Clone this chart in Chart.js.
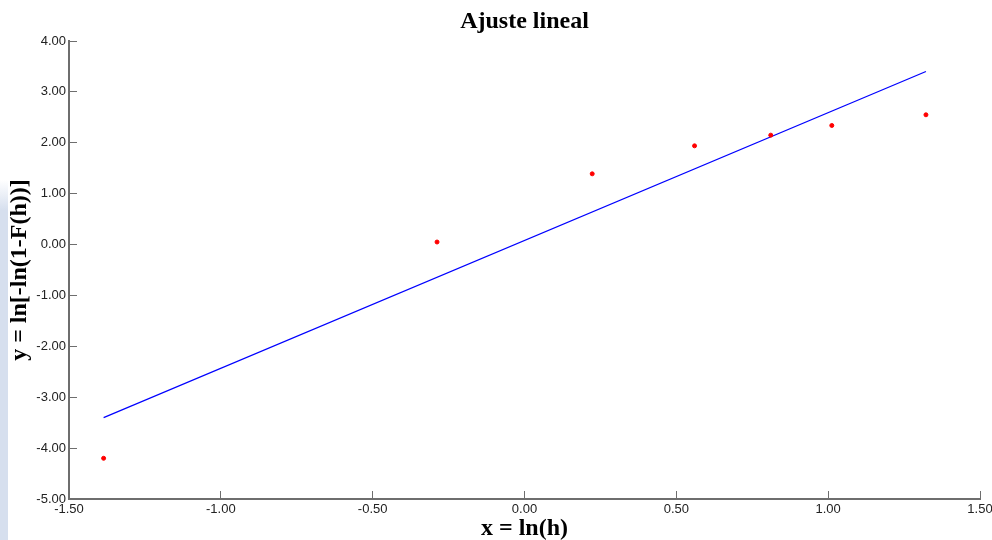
<!DOCTYPE html>
<html>
<head>
<meta charset="utf-8">
<script src="https://cdn.jsdelivr.net/npm/chart.js@4"></script>
<style>
  body { margin: 0; background: #fff; }
  #wrap { position: relative; width: 992px; height: 540px; }
  #strip { position: absolute; left: 0; top: 180px; width: 8px; height: 360px;
           background: linear-gradient(to bottom, rgba(214,223,238,0), #d6dfee 30px, #d6dfee); }
  canvas { position: absolute; left: 0; top: 0; }
</style>
</head>
<body>
<div id="wrap">
  <div id="strip"></div>
  <canvas id="fitChart" width="992" height="540"></canvas>
</div>
<script>
// Ajuste lineal: x = ln(h), y = ln[-ln(1-F(h))]
const xObs = [-1.386, -0.288, 0.223, 0.560, 0.811, 1.012, 1.322];
const yObs = [-4.20, 0.05, 1.39, 1.94, 2.15, 2.34, 2.55];
const xFit = [-1.386, 1.322];
const yFit = [-3.40, 3.40];
const xTicks = [-1.5, -1.0, -0.5, 0.0, 0.5, 1.0, 1.5];
const yTicks = [-5, -4, -3, -2, -1, 0, 1, 2, 3, 4];

const axisGray = '#6e6e6e';
const tickFont = { family: "'Liberation Sans', Arial, sans-serif", size: 13 };
const serif = "'Liberation Serif', 'Times New Roman', serif";

// title centred over the plot area
const plotTitle = {
  id: 'plotTitle',
  afterDraw(chart) {
    const { ctx, chartArea } = chart;
    ctx.save();
    ctx.font = 'bold 24px ' + serif;
    ctx.fillStyle = '#000';
    ctx.textAlign = 'center';
    ctx.textBaseline = 'middle';
    ctx.fillText('Ajuste lineal', (chartArea.left + chartArea.right) / 2, 22);
    ctx.restore();
  }
};

new Chart(document.getElementById('fitChart').getContext('2d'), {
  type: 'scatter',
  data: {
    datasets: [
      {
        label: 'Datos',
        data: xObs.map((x, i) => ({ x: x, y: yObs[i] })),
        backgroundColor: '#ff0000',
        borderColor: '#ff0000',
        pointRadius: 2,
        pointHoverRadius: 2,
      },
      {
        label: 'Recta',
        data: xFit.map((x, i) => ({ x: x, y: yFit[i] })),
        showLine: true,
        borderColor: '#0000ff',
        borderWidth: 1.2,
        pointRadius: 0,
        fill: false,
      }
    ]
  },
  options: {
    responsive: false,
    animation: false,
    layout: { padding: { top: 41, right: 12, left: 0, bottom: 0 } },
    plugins: { legend: { display: false }, tooltip: { enabled: false } },
    scales: {
      x: {
        type: 'linear',
        min: -1.5, max: 1.5,
        afterBuildTicks: s => { s.ticks = xTicks.map(v => ({ value: v })); },
        afterFit: s => { s.height = 41; s.paddingLeft = 0; s.paddingRight = 0; },
        ticks: { color: '#222', font: tickFont, padding: 11, maxRotation: 0, autoSkip: false,
                 callback: v => v.toFixed(2) },
        grid: { drawOnChartArea: false, drawTicks: true, tickLength: -8, color: axisGray, lineWidth: 1 },
        border: { display: true, color: axisGray, width: 2 },
        title: { display: true, text: 'x = ln(h)', color: '#000',
                 font: { family: serif, size: 24, weight: 'bold', lineHeight: 0.9 }, padding: { top: 0, bottom: 0 } }
      },
      y: {
        type: 'linear',
        min: -5, max: 4,
        afterBuildTicks: s => { s.ticks = yTicks.map(v => ({ value: v })); },
        afterFit: s => { s.width = 69; s.paddingTop = 0; s.paddingBottom = 0; },
        ticks: { color: '#222', font: tickFont, padding: 11, autoSkip: false,
                 callback: v => v.toFixed(2) },
        grid: { drawOnChartArea: false, drawTicks: true, tickLength: -8, color: axisGray, lineWidth: 1 },
        border: { display: true, color: axisGray, width: 2 },
        title: { display: true, text: 'y = ln[-ln(1-F(h))]', color: '#000',
                 font: { family: serif, size: 24, weight: 'bold', lineHeight: 0.9 }, padding: { top: 9, bottom: 0 } }
      }
    }
  },
  plugins: [plotTitle]
});
</script>
</body>
</html>
